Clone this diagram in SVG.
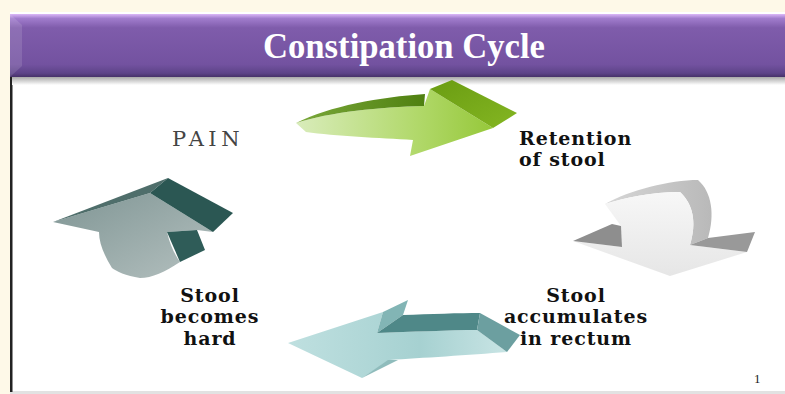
<svg xmlns="http://www.w3.org/2000/svg" width="785" height="394" viewBox="0 0 785 394">
  <defs>
    <style>
      .lbl { font-family: "DejaVu Serif", "Liberation Serif", serif; font-weight: bold; font-size: 19px; letter-spacing: 0.9px; fill: #111111; }
      .mid { text-anchor: middle; }
      .title { font-family: "Liberation Serif", "Times New Roman", serif; font-weight: bold; font-size: 36px; fill: #ffffff; text-anchor: middle; }
    </style>
    <linearGradient id="hdr" x1="0" y1="0" x2="0" y2="1">
      <stop offset="0" stop-color="#dcb8f8"/>
      <stop offset="0.07" stop-color="#a17dcd"/>
      <stop offset="0.22" stop-color="#7f5cab"/>
      <stop offset="0.8" stop-color="#7352a0"/>
      <stop offset="0.94" stop-color="#5d4388"/>
      <stop offset="1" stop-color="#463168"/>
    </linearGradient>
    <linearGradient id="shadow" x1="0" y1="0" x2="0" y2="1">
      <stop offset="0" stop-color="#a8a8a8"/>
      <stop offset="1" stop-color="#ffffff"/>
    </linearGradient>
    <linearGradient id="gFront" x1="0" y1="0" x2="1" y2="0">
      <stop offset="0" stop-color="#d9ecbb"/>
      <stop offset="0.6" stop-color="#b2d96c"/>
      <stop offset="1" stop-color="#96c83a"/>
    </linearGradient>
    <linearGradient id="gTop" x1="0" y1="0" x2="1" y2="0">
      <stop offset="0" stop-color="#7aa83a"/>
      <stop offset="1" stop-color="#4f8010"/>
    </linearGradient>
    <linearGradient id="gHead" x1="0" y1="0" x2="1" y2="1">
      <stop offset="0" stop-color="#6a9c12"/>
      <stop offset="1" stop-color="#84b622"/>
    </linearGradient>
    <linearGradient id="wFront" x1="0" y1="0" x2="0" y2="1">
      <stop offset="0" stop-color="#f7f7f7"/>
      <stop offset="1" stop-color="#e6e6e6"/>
    </linearGradient>
    <linearGradient id="wTop" x1="0" y1="0" x2="1" y2="0">
      <stop offset="0" stop-color="#d6d6d6"/>
      <stop offset="1" stop-color="#b9b9b9"/>
    </linearGradient>
    <linearGradient id="tFront" x1="0" y1="0" x2="1" y2="0">
      <stop offset="0" stop-color="#bfe0e0"/>
      <stop offset="0.6" stop-color="#a6d1d1"/>
      <stop offset="1" stop-color="#c8e4e4"/>
    </linearGradient>
    <linearGradient id="lFront" x1="0" y1="0" x2="1" y2="1">
      <stop offset="0" stop-color="#7f9594"/>
      <stop offset="1" stop-color="#b4c0bf"/>
    </linearGradient>
  </defs>

  <!-- page background -->
  <rect x="0" y="0" width="785" height="394" fill="#fef9e8"/>
  <rect x="10" y="12" width="775" height="382" fill="#ffffff"/>
  <rect x="10" y="391" width="775" height="3" fill="#e2e2e2"/>
  <rect x="10" y="77" width="2.5" height="315" fill="#222222"/>
  <rect x="12" y="77" width="773" height="8" fill="url(#shadow)"/>

  <!-- header -->
  <g id="header">
    <rect x="10" y="14" width="775" height="63" fill="url(#hdr)"/>
    <polygon points="10,14 22,25 22,66 10,77" fill="#ffffff" opacity="0.12"/>
    <text class="title" x="404" y="58" textLength="282" lengthAdjust="spacingAndGlyphs">Constipation Cycle</text>
  </g>

  <!-- connectors: the 3D cycle arrows -->
  <g id="connectors">
    <g id="arrow-green">
      <path d="M296,123 C330,112 380,107 424,106 L430,89 L493,128 L410,156 L413,140 C380,138 335,136 306,132 Z" fill="url(#gFront)"/>
      <path d="M296,123 C330,106 380,97 425,94 L424,106 C380,107 330,112 296,123 Z" fill="url(#gTop)"/>
      <path d="M430,89 L452,80 L517,113 L493,128 Z" fill="url(#gHead)"/>
    </g>
    <g id="arrow-white">
      <path d="M605,204 C630,190 670,180 698,180 C712,192 715,215 708,238 L690,245 C697,222 693,204 680,192 C650,192 625,198 605,204 Z" fill="url(#wTop)"/>
      <path d="M605,204 C625,198 650,192 680,192 C693,204 697,222 690,245 L747,252 L670,276 L573,241 L622,247 L621,226 Z" fill="url(#wFront)"/>
      <path d="M573,241 L612,224 L621,226 L622,247 Z" fill="#8e8e8e"/>
      <path d="M690,245 L708,238 L755,232 L747,252 Z" fill="#999999"/>
    </g>
    <g id="arrow-teal">
      <path d="M288,343 L383,312 L377,333 C410,332 450,330 477,330 L507,352 C470,355 420,358 390,360 L362,378 Z" fill="url(#tFront)"/>
      <path d="M383,312 L408,300 L403,315 L377,333 Z" fill="#82b5b5"/>
      <path d="M377,333 L403,315 C430,314 460,313 480,313 L477,330 C450,330 410,332 377,333 Z" fill="#4f8888"/>
      <path d="M480,313 L520,335 L507,352 L477,330 Z" fill="#6c9fa0"/>
      <path d="M362,378 L388,360 L398,360 Z" fill="#8fbcbc"/>
    </g>
    <g id="arrow-dark">
      <path d="M53,222 L150,193 L213,232 L197,230 L167,232 C170,245 175,255 180,262 C165,272 152,278 140,278 C126,276 116,271 112,268 C104,255 99,243 99,232 Z" fill="url(#lFront)"/>
      <path d="M53,222 L168,178 L150,193 Z" fill="#4f6e6b"/>
      <path d="M150,193 L168,178 L233,213 L213,232 Z" fill="#2b5753"/>
      <path d="M167,232 L197,230 L205,250 L180,262 Z" fill="#2f5c58"/>
    </g>
  </g>

  <!-- nodes: labels -->
  <g id="node-pain">
    <text x="172" y="146" font-family="DejaVu Serif, Liberation Serif, serif" font-size="21" letter-spacing="4.5" fill="#444444">PAIN</text>
  </g>
  <g id="node-retention">
    <text class="lbl" x="519" y="145">Retention</text>
    <text class="lbl" x="519" y="166">of stool</text>
  </g>
  <g id="node-accumulates">
    <text class="lbl mid" x="576" y="302">Stool</text>
    <text class="lbl mid" x="576" y="323">accumulates</text>
    <text class="lbl mid" x="576" y="345">in rectum</text>
  </g>
  <g id="node-hard">
    <text class="lbl mid" x="210" y="302">Stool</text>
    <text class="lbl mid" x="210" y="323">becomes</text>
    <text class="lbl mid" x="210" y="345">hard</text>
  </g>
  <g id="page-number">
    <text x="754" y="383" font-family="Liberation Serif, Times New Roman, serif" font-size="13" fill="#222222">1</text>
  </g>
</svg>
